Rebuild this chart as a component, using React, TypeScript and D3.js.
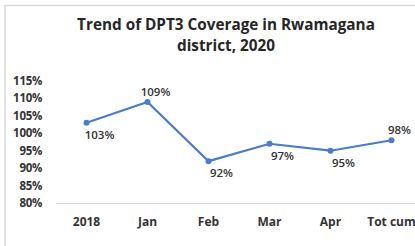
import React, { useRef, useEffect } from 'react';
import * as d3 from 'd3';

const categories = ['2018', 'Jan', 'Feb', 'Mar', 'Apr', 'Tot cum'];
const coverage = [103, 109, 92, 97, 95, 98];
const labelAbove = [false, true, false, false, false, true];
const yTicks = [80, 85, 90, 95, 100, 105, 110, 115];
const titleLines = ['Trend of DPT3 Coverage in Rwamagana', 'district, 2020'];

const W = 415;
const H = 246;
const FONT = '"Open Sans", Lato, sans-serif';

export default function App() {
  const svgRef = useRef<SVGSVGElement>(null);

  useEffect(() => {
    const svg = d3.select(svgRef.current);
    svg.selectAll('*').remove();

    // chart frame, the right and bottom edges fall outside the crop
    svg.append('rect')
      .attr('x', 5).attr('y', 5.5)
      .attr('width', 430).attr('height', 260)
      .attr('fill', '#fff')
      .attr('stroke', '#d9d9d9')
      .attr('stroke-width', 1.5);

    svg.append('g')
      .selectAll('text')
      .data(titleLines)
      .join('text')
      .attr('x', 226)
      .attr('y', (d, i) => 30 + i * 21)
      .attr('text-anchor', 'middle')
      .attr('font-family', FONT)
      .attr('font-weight', 'bold')
      .attr('font-size', 15.3)
      .attr('fill', '#262626')
      .text(d => d);

    const x = d3.scaleBand<string>().domain(categories).range([56, 422]);
    const y = d3.scaleLinear().domain([80, 115]).range([203, 81]);
    const cx = (c: string) => x(c)! + x.bandwidth() / 2;

    // y axis labels, no axis line
    svg.append('g')
      .selectAll('text')
      .data(yTicks)
      .join('text')
      .attr('x', 42)
      .attr('y', d => y(d) + 4)
      .attr('text-anchor', 'end')
      .attr('font-family', FONT)
      .attr('font-weight', 'bold')
      .attr('font-size', 11.5)
      .attr('letter-spacing', -0.3)
      .attr('fill', '#333')
      .text(d => d + '%');

    svg.append('line')
      .attr('x1', 56).attr('x2', 422)
      .attr('y1', 203.5).attr('y2', 203.5)
      .attr('stroke', '#d9d9d9')
      .attr('stroke-width', 1);

    svg.append('g')
      .selectAll('text')
      .data(categories)
      .join('text')
      .attr('x', d => cx(d))
      .attr('y', 226)
      .attr('text-anchor', 'middle')
      .attr('font-family', FONT)
      .attr('font-weight', 'bold')
      .attr('font-size', 12)
      .attr('fill', '#333')
      .text(d => d);

    const pts = categories.map((c, i) => ({ c, v: coverage[i], up: labelAbove[i] }));
    const line = d3.line<{ c: string; v: number }>()
      .x(d => cx(d.c))
      .y(d => y(d.v));

    svg.append('path')
      .datum(pts)
      .attr('d', line)
      .attr('fill', 'none')
      .attr('stroke', '#4a7cc7')
      .attr('stroke-width', 2.2);

    svg.append('g')
      .selectAll('circle')
      .data(pts)
      .join('circle')
      .attr('cx', d => cx(d.c))
      .attr('cy', d => y(d.v))
      .attr('r', 3)
      .attr('fill', '#4a7cc7');

    svg.append('g')
      .selectAll('text')
      .data(pts)
      .join('text')
      .attr('x', d => cx(d.c) + (d.up ? 8 : 13))
      .attr('y', d => y(d.v) + (d.up ? -6 : 16))
      .attr('text-anchor', 'middle')
      .attr('font-family', FONT)
      .attr('font-size', 11.5)
      .attr('font-weight', 600)
      .attr('fill', '#333')
      .text(d => d.v + '%');
  }, []);

  return (
    <svg
      ref={svgRef}
      width={W}
      height={H}
      style={{ position: 'absolute', left: 0, top: 0, background: '#fff' }}
    />
  );
}
